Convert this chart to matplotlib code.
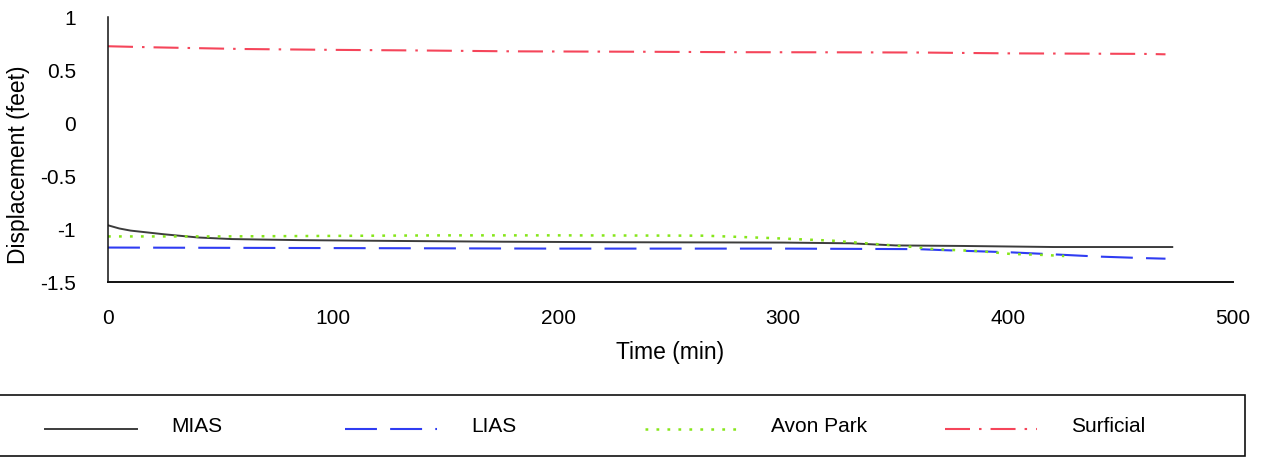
import matplotlib
matplotlib.use("Agg")
import matplotlib.pyplot as plt
from matplotlib.lines import Line2D
from matplotlib.patches import Rectangle

plt.rcParams["font.family"] = ["Liberation Sans", "DejaVu Sans"]
plt.rcParams["lines.scale_dashes"] = False

# ---- data (time in minutes, displacement in feet) ----
mias_t = [0, 5, 10, 25, 40, 55, 85, 130, 175, 230, 300, 330, 350, 380, 420, 473]
mias_v = [-0.965, -0.995, -1.015, -1.05, -1.08, -1.095, -1.105, -1.113, -1.12,
          -1.125, -1.128, -1.135, -1.155, -1.16, -1.17, -1.17]

lias_t = [0, 100, 200, 300, 360, 372, 401, 421, 440, 461, 470]
lias_v = [-1.175, -1.18, -1.185, -1.185, -1.19, -1.20, -1.22, -1.24, -1.26, -1.275, -1.28]

avon_t = [0, 50, 100, 150, 200, 265, 294, 322, 334, 358, 367, 388, 401, 416, 425]
avon_v = [-1.07, -1.07, -1.065, -1.06, -1.06, -1.063, -1.085, -1.11, -1.13,
          -1.17, -1.19, -1.21, -1.235, -1.245, -1.255]

surf_t = [0, 20, 40, 60, 80, 100, 140, 180, 240, 280, 320, 360, 400, 460, 470]
surf_v = [0.724, 0.714, 0.706, 0.698, 0.694, 0.690, 0.684, 0.676, 0.672, 0.668,
          0.667, 0.665, 0.657, 0.652, 0.648]

series_names = ["MIAS", "LIAS", "Avon Park", "Surficial"]
x_ticks = [0, 100, 200, 300, 400, 500]
x_tick_labels = ["0", "100", "200", "300", "400", "500"]
y_ticks = [1, 0.5, 0, -0.5, -1, -1.5]
y_tick_labels = ["1", "0.5", "0", "-0.5", "-1", "-1.5"]

# ---- styles ----
styles = [
    dict(color="#3c3c3c", lw=1.4, ls="-"),
    dict(color="#2f3cf2", lw=1.5, ls=(0, (23, 9.5))),
    dict(color="#86e61a", lw=1.8, ls=(0, (2.0, 5.9))),
    dict(color="#f5455a", lw=1.5, ls=(0, (18, 6.5, 1.8, 6.5))),
]

W, H = 1261, 460
fig = plt.figure(figsize=(W / 100, H / 100), dpi=100)
ax = fig.add_axes([108 / W, 1 - 283 / H, (1233 - 108) / W, (283 - 18) / H])

data = [(mias_t, mias_v), (lias_t, lias_v), (avon_t, avon_v), (surf_t, surf_v)]
for (t, v), name, st in zip(data, series_names, styles):
    ax.plot(t, v, label=name, **st)

ax.set_xlim(0, 500)
ax.set_ylim(-1.5, 1)
ax.set_xticks(x_ticks)
ax.set_xticklabels(x_tick_labels)
ax.set_yticks(y_ticks)
ax.set_yticklabels(y_tick_labels)
ax.tick_params(axis="x", length=0, pad=19, labelsize=15)
ax.tick_params(axis="y", length=0, pad=23, labelsize=15)
for side in ("top", "right"):
    ax.spines[side].set_visible(False)
ax.spines["left"].set_linewidth(1.1)
ax.spines["bottom"].set_linewidth(1.4)
for side in ("left", "bottom"):
    ax.spines[side].set_color("#111111")

fig.text(670 / W, 1 - 352 / H, "Time (min)", ha="center", va="center", fontsize=16.5)
fig.text(19 / W, 1 - 165 / H, "Displacement (feet)", ha="center", va="center",
         rotation=90, fontsize=16.5)

# ---- legend box along the bottom ----
fig.add_artist(Rectangle((-0.01, 1 - 457 / H), 1245 / W + 0.01, (457 - 396) / H,
                         transform=fig.transFigure, fill=False,
                         edgecolor="#111111", lw=1.2))
handle_x = [45, 345, 645, 945]
for x0, name, st in zip(handle_x, series_names, styles):
    yl = 1 - 430 / H
    fig.add_artist(Line2D([x0 / W, (x0 + 92) / W], [yl, yl],
                          transform=fig.transFigure, **st))
    fig.text((x0 + 126) / W, 1 - 427 / H, name, ha="left", va="center", fontsize=15)

fig.savefig("out.png", dpi=100)
